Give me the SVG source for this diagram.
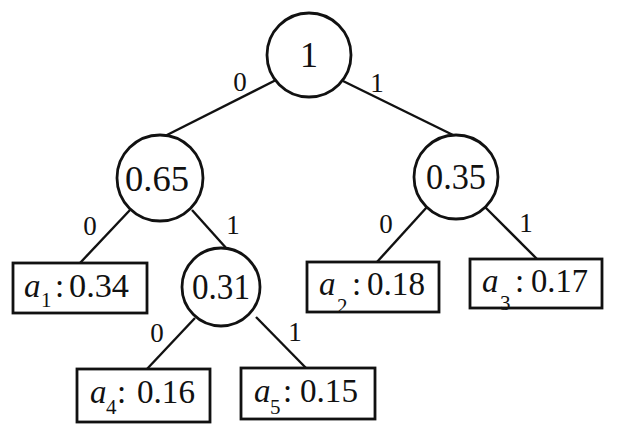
<svg xmlns="http://www.w3.org/2000/svg" width="618" height="434" viewBox="0 0 618 434" font-family="'Liberation Serif', 'DejaVu Serif', serif">
<style>
text{font-family:'Liberation Serif','DejaVu Serif',serif;fill:#111}
.c{fill:#fff;stroke:#111;stroke-width:2.8}
.b{fill:#fff;stroke:#111;stroke-width:2.8}
.e{stroke:#111;stroke-width:2.4;fill:none}
.cl{font-size:36px;text-anchor:middle}
.el{font-size:27px;text-anchor:middle}
.v{font-size:33px}
.a{font-size:33px;font-style:italic}
.s{font-size:21px}
</style>
<rect width="618" height="434" fill="#fff"/>
<g id="edges">
<line class="e" x1="276" y1="80" x2="163" y2="137"/>
<line class="e" x1="343" y1="81" x2="453" y2="135"/>
<line class="e" x1="130" y1="210" x2="80" y2="263"/>
<line class="e" x1="192" y1="210" x2="227" y2="249"/>
<line class="e" x1="427" y1="207" x2="377" y2="262"/>
<line class="e" x1="485" y1="207" x2="537" y2="259"/>
<line class="e" x1="195" y1="318" x2="147" y2="369"/>
<line class="e" x1="256" y1="317" x2="306" y2="368"/>
<text class="el" x="240" y="91">0</text>
<text class="el" x="377" y="92">1</text>
<text class="el" x="90" y="235">0</text>
<text class="el" x="233" y="234">1</text>
<text class="el" x="386" y="233">0</text>
<text class="el" x="526" y="232">1</text>
<text class="el" x="157" y="342">0</text>
<text class="el" x="295" y="341">1</text>
</g>
<g id="n1"><circle class="c" cx="309" cy="55" r="42"/><text class="cl" x="309" y="67">1</text></g>
<g id="n065"><circle class="c" cx="160" cy="178" r="43"/><text class="cl" x="157" y="191" textLength="64" lengthAdjust="spacingAndGlyphs">0.65</text></g>
<g id="n035"><circle class="c" cx="456" cy="177" r="42"/><text class="cl" x="456" y="189" textLength="60" lengthAdjust="spacingAndGlyphs">0.35</text></g>
<g id="n031"><circle class="c" cx="221" cy="287" r="39"/><text class="cl" x="221" y="299" textLength="58" lengthAdjust="spacingAndGlyphs">0.31</text></g>
<g id="a1"><rect class="b" x="13" y="263" width="134" height="50"/>
<text class="a" x="24" y="297">a</text><text class="s" x="41" y="307">1</text><text class="v" x="55" y="297">:</text><text class="v" x="69" y="297" textLength="60" lengthAdjust="spacingAndGlyphs">0.34</text></g>
<g id="a2"><rect class="b" x="307" y="262" width="132" height="50"/>
<text class="a" x="319" y="295">a</text><text class="s" x="337" y="313">2</text><text class="v" x="352" y="295">:</text><text class="v" x="367" y="295" textLength="58" lengthAdjust="spacingAndGlyphs">0.18</text></g>
<g id="a3"><rect class="b" x="470" y="259" width="132" height="49"/>
<text class="a" x="482" y="292">a</text><text class="s" x="500" y="310">3</text><text class="v" x="515" y="292">:</text><text class="v" x="531" y="292" textLength="57" lengthAdjust="spacingAndGlyphs">0.17</text></g>
<g id="a4"><rect class="b" x="77" y="369" width="133" height="53"/>
<text class="a" x="90" y="403">a</text><text class="s" x="106" y="414">4</text><text class="v" x="117" y="403">:</text><text class="v" x="137" y="403" textLength="58" lengthAdjust="spacingAndGlyphs">0.16</text></g>
<g id="a5"><rect class="b" x="241" y="368" width="134" height="51"/>
<text class="a" x="254" y="402">a</text><text class="s" x="270" y="414">5</text><text class="v" x="283" y="402">:</text><text class="v" x="300" y="402" textLength="58" lengthAdjust="spacingAndGlyphs">0.15</text></g>
</svg>
